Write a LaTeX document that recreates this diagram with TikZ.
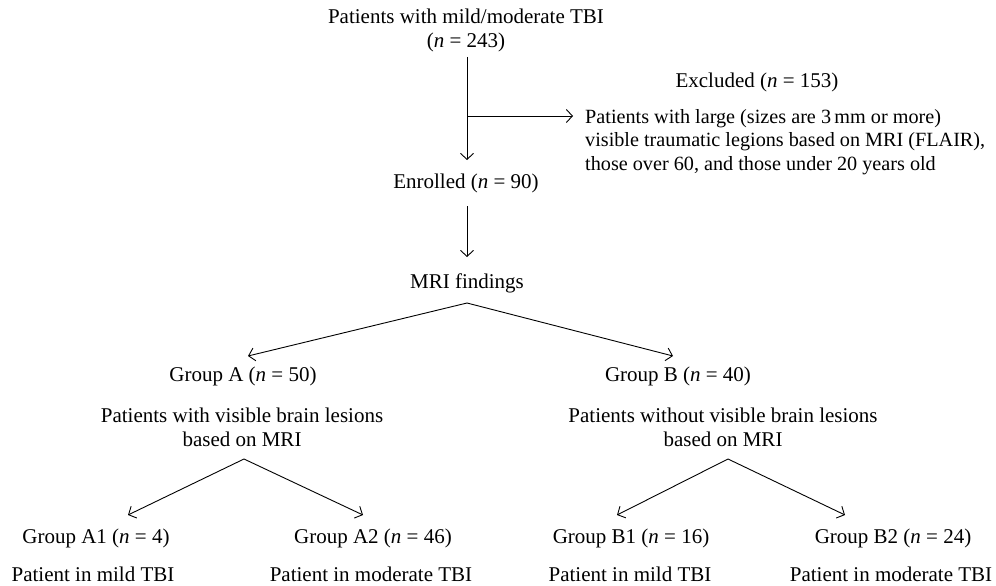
\documentclass[tikz,border=0pt]{standalone}
\usepackage{fontspec}
\setmainfont{Liberation Serif}
\usetikzlibrary{arrows.meta}
\begin{document}
\begin{tikzpicture}[x=1pt,y=-1pt,
  lbl/.style={font=\fontsize{21}{24}\selectfont, inner sep=0pt, align=center, anchor=center},
  lbll/.style={font=\fontsize{20.2}{23.5}\selectfont, inner sep=0pt, align=left, anchor=west},
  arr/.style={line width=0.9pt, -{Straight Barb[length=6pt,width=13pt,line width=0.9pt]}},
  ln/.style={line width=0.9pt}]
\useasboundingbox (0,0) rectangle (996,586);
% nodes
\node[lbl] (title) at (466,30) {Patients with mild/moderate TBI\\(\textit{n} = 243)};
\node[lbl] (excl) at (757,82) {Excluded (\textit{n} = 153)};
\node[lbll] (excltxt) at (585,142) {Patients with large (sizes are 3\,mm or more)\\visible traumatic legions based on MRI (FLAIR),\\those over 60, and those under 20 years old};
\node[lbl] (enr) at (466,183) {Enrolled (\textit{n} = 90)};
\node[lbl] (mri) at (467,283) {MRI findings};
\node[lbl] (ga) at (243,376) {Group A (\textit{n} = 50)};
\node[lbl] (gb) at (678,376) {Group B (\textit{n} = 40)};
\node[lbl] (gatxt) at (242,427) {Patients with visible brain lesions\\based on MRI};
\node[lbl] (gbtxt) at (723,427) {Patients without visible brain lesions\\based on MRI};
\node[lbl] (a1) at (96,538) {Group A1 (\textit{n} = 4)};
\node[lbl] (a2) at (373,538) {Group A2 (\textit{n} = 46)};
\node[lbl] (b1) at (631,538) {Group B1 (\textit{n} = 16)};
\node[lbl] (b2) at (893,538) {Group B2 (\textit{n} = 24)};
\node[lbl] (a1t) at (93,574) {Patient in mild TBI};
\node[lbl] (a2t) at (371,574) {Patient in moderate TBI};
\node[lbl] (b1t) at (630,574) {Patient in mild TBI};
\node[lbl] (b2t) at (891,574) {Patient in moderate TBI};
% coordinates
\coordinate (top) at (467,57);
\coordinate (br) at (467,116);
\coordinate (brend) at (573,116);
\coordinate (enrtip) at (467,160);
\coordinate (enrbot) at (467,206);
\coordinate (mritip) at (467,257);
\coordinate (mriapex) at (467,303);
\coordinate (gatip) at (248,356);
\coordinate (gbtip) at (673,356);
\coordinate (aapex) at (244,459);
\coordinate (a1tip) at (128,515);
\coordinate (a2tip) at (363,515);
\coordinate (bapex) at (728,459);
\coordinate (b1tip) at (617,515);
\coordinate (b2tip) at (845,515);
% connectors
\draw[arr] (top) -- (enrtip);
\draw[arr] (br) -- (brend);
\draw[arr] (enrbot) -- (mritip);
\draw[arr] (mriapex) -- (gatip);
\draw[arr] (mriapex) -- (gbtip);
\draw[arr] (aapex) -- (a1tip);
\draw[arr] (aapex) -- (a2tip);
\draw[arr] (bapex) -- (b1tip);
\draw[arr] (bapex) -- (b2tip);
\end{tikzpicture}
\end{document}
